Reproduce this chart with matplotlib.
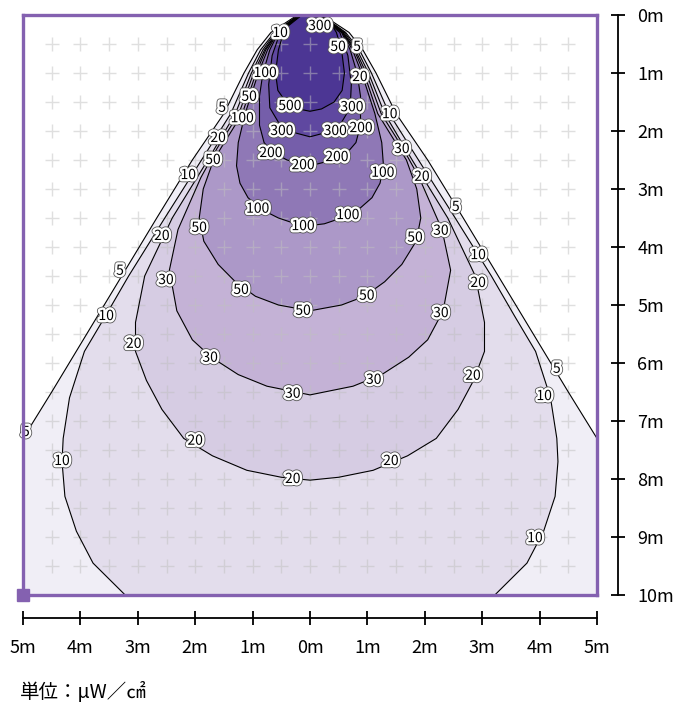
import matplotlib
matplotlib.use("Agg")
import matplotlib.pyplot as plt
import matplotlib.patheffects as pe
import numpy as np

# contour levels (uW/cm2) and their fill colours (region above the level)
levels = [5, 10, 20, 30, 50, 100, 200, 300, 500]
fill_colors = ["#f0eef6", "#e3ddec", "#d6cce3", "#c4b2d6", "#ac98c8",
               "#8f78b6", "#755eaa", "#5f48a0", "#4c3694"]

# contour outlines: depth (m) and half-width (m), right half
depth_5 = [0.0, 0.3, 0.6, 1.0, 1.7, 2.5, 3.5, 4.5, 5.5, 6.5, 7.3, 8.5, 10.3]
half_5 = [0.22, 0.68, 0.92, 1.15, 1.5, 2.05, 2.67, 3.28, 3.89, 4.5, 5.0, 5.7, 6.8]

depth_10 = [0.0, 0.3, 0.6, 1.0, 1.7, 2.5, 3.5, 4.5, 5.2, 5.8, 6.6, 7.3, 7.7, 8.3, 8.9, 9.45, 10.0, 10.3]
half_10 = [0.2, 0.62, 0.86, 1.07, 1.38, 1.89, 2.53, 3.16, 3.57, 3.93, 4.19, 4.3, 4.32, 4.27, 4.07, 3.78, 3.22, 2.85]

depth_20 = [0.0, 0.3, 0.6, 1.0, 1.7, 2.5, 3.5, 4.5, 5.3, 5.8, 6.3, 6.8, 7.3, 7.6, 7.85, 7.97, 8.02]
half_20 = [0.19, 0.6, 0.82, 1.02, 1.3, 1.78, 2.4, 2.88, 3.04, 3.04, 2.85, 2.58, 2.2, 1.7, 1.1, 0.5, 0.0]

depth_30 = [0.0, 0.3, 0.6, 1.0, 1.7, 2.3, 2.8, 3.7, 4.4, 5.1, 5.6, 5.9, 6.2, 6.4, 6.55]
half_30 = [0.18, 0.58, 0.79, 0.98, 1.24, 1.62, 1.9, 2.3, 2.45, 2.32, 2.05, 1.72, 1.25, 0.75, 0.0]

depth_50 = [0.0, 0.3, 0.6, 1.0, 1.7, 2.5, 3.0, 3.5, 3.9, 4.3, 4.6, 4.85, 5.0, 5.1]
half_50 = [0.17, 0.57, 0.77, 0.94, 1.18, 1.68, 1.86, 1.93, 1.85, 1.6, 1.3, 0.95, 0.55, 0.0]

depth_100 = [0.0, 0.3, 0.6, 1.0, 1.7, 2.2, 2.6, 2.9, 3.15, 3.35, 3.5, 3.6, 3.63]
half_100 = [0.16, 0.56, 0.74, 0.9, 1.13, 1.25, 1.28, 1.22, 1.08, 0.85, 0.55, 0.25, 0.0]

depth_200 = [0.0, 0.3, 0.6, 1.0, 1.4, 1.9, 2.2, 2.36, 2.5, 2.6]
half_200 = [0.15, 0.55, 0.7, 0.82, 0.88, 0.88, 0.8, 0.66, 0.4, 0.0]

depth_300 = [0.0, 0.3, 0.7, 1.2, 1.6, 1.85, 2.0, 2.1]
half_300 = [0.14, 0.52, 0.66, 0.72, 0.7, 0.55, 0.38, 0.0]

depth_500 = [0.0, 0.1, 0.3, 0.6, 1.0, 1.3, 1.5, 1.62, 1.66]
half_500 = [0.12, 0.33, 0.46, 0.55, 0.6, 0.56, 0.42, 0.2, 0.0]

# inline contour labels
label_text = ["300", "10", "50", "5", "100", "20", "50", "5", "500", "300", "10", "100",
              "300", "300", "200", "20", "30", "200", "200", "50", "200", "100", "10", "20",
              "100", "5", "100", "100", "50", "30", "20", "50", "10", "5", "30", "20",
              "50", "50", "50", "30", "10", "20", "30", "5", "20", "30", "30", "10",
              "5", "20", "10", "20", "20", "10"]
label_x = [0.17, -0.52, 0.49, 0.82, -0.78, 0.87, -1.06, -1.53, -0.35, 0.73, 1.39, -1.18,
           -0.49, 0.44, 0.89, -1.6, 1.6, -0.68, 0.47, -1.69, -0.12, 1.27, -2.12, 1.95,
           -0.91, 2.54, 0.66, -0.12, -1.93, 2.28, -2.58, 1.83, 2.93, -3.31, -2.51, 2.93,
           -1.2, 0.99, -0.12, 2.28, -3.55, -3.07, -1.74, 4.3, 2.84, 1.11, -0.3, 4.08,
           -4.95, -2.0, -4.32, 1.41, -0.3, 3.92]
label_y = [0.19, 0.31, 0.55, 0.55, 1.0, 1.07, 1.41, 1.6, 1.57, 1.59, 1.71, 1.78,
           2.0, 2.0, 1.95, 2.12, 2.31, 2.38, 2.45, 2.5, 2.59, 2.72, 2.76, 2.79,
           3.34, 3.31, 3.45, 3.64, 3.67, 3.72, 3.81, 3.84, 4.14, 4.41, 4.57, 4.62,
           4.74, 4.84, 5.1, 5.14, 5.19, 5.67, 5.91, 6.1, 6.22, 6.29, 6.53, 6.57,
           7.19, 7.34, 7.69, 7.69, 8.0, 9.02]

x_ticks = [-5, -4, -3, -2, -1, 0, 1, 2, 3, 4, 5]
y_ticks = [0, 1, 2, 3, 4, 5, 6, 7, 8, 9, 10]
grid_steps = [-4.5, -4, -3.5, -3, -2.5, -2, -1.5, -1, -0.5, 0, 0.5, 1, 1.5, 2, 2.5, 3, 3.5, 4, 4.5]
grid_depths = [0.5, 1, 1.5, 2, 2.5, 3, 3.5, 4, 4.5, 5, 5.5, 6, 6.5, 7, 7.5, 8, 8.5, 9, 9.5]
unit_label = "単位：μW／㎠"

outlines = [(depth_5, half_5), (depth_10, half_10), (depth_20, half_20),
            (depth_30, half_30), (depth_50, half_50), (depth_100, half_100),
            (depth_200, half_200), (depth_300, half_300), (depth_500, half_500)]

font = "Noto Sans CJK JP"
frame_color = "#8461b0"

fig = plt.figure(figsize=(6.76, 7.07), dpi=100)
rect = [23 / 676, 1 - 595 / 707, 574 / 676, 580 / 707]
ax = fig.add_axes(rect)
ax.set_xlim(-5, 5)
ax.set_ylim(10, 0)

for (d, h), col in zip(outlines, fill_colors):
    d = np.array(d)
    h = np.array(h)
    xs = np.concatenate([h, -h[::-1]])
    ys = np.concatenate([d, d[::-1]])
    ax.fill(xs, ys, color=col, lw=0, zorder=1)
    ax.plot(xs, ys, color="black", lw=0.8, zorder=3)

gx, gy = np.meshgrid(grid_steps, grid_depths)
ax.plot(gx.ravel(), gy.ravel(), ls="none", marker="+", ms=10, mew=1.0,
        color="#c0c0c0", alpha=0.5, zorder=2)

halo = [pe.Stroke(linewidth=4.6, foreground="#555555"),
        pe.Stroke(linewidth=3.4, foreground="white"), pe.Normal()]
for t, x, y in zip(label_text, label_x, label_y):
    ax.text(x, y, t, ha="center", va="center", fontsize=10, family=font,
            color="black", zorder=5, path_effects=halo)

for s in ax.spines.values():
    s.set_color(frame_color)
    s.set_linewidth(2.4)
    s.set_zorder(6)
ax.set_xticks([])
ax.set_yticks([])
ax.plot([x_ticks[0]], [y_ticks[-1]], marker="s", ms=8, color=frame_color,
        clip_on=False, zorder=7)

# measuring scales below and right of the frame
ax2 = fig.add_axes(rect, facecolor="none")
ax2.set_xlim(-5, 5)
ax2.set_ylim(10, 0)
for side in ["top", "left"]:
    ax2.spines[side].set_visible(False)
ax2.spines["bottom"].set_position(("outward", 16.5))
ax2.spines["right"].set_position(("outward", 15))
for side in ["bottom", "right"]:
    ax2.spines[side].set_linewidth(1.3)
ax2.yaxis.tick_right()
ax2.set_xticks(x_ticks)
ax2.set_xticklabels([f"{abs(v)}m" for v in x_ticks])
ax2.set_yticks(y_ticks)
ax2.set_yticklabels([f"{v}m" for v in y_ticks])
ax2.tick_params(axis="both", direction="inout", length=10, width=1.3, labelsize=13)
ax2.tick_params(axis="x", pad=10)
ax2.tick_params(axis="y", pad=9)
for lab in ax2.get_xticklabels() + ax2.get_yticklabels():
    lab.set_family(font)

fig.text(20 / 676, 1 - 692 / 707, unit_label, ha="left", va="center", fontsize=14,
         family=[font, "DejaVu Sans"])

fig.savefig("out.png", dpi=100)
